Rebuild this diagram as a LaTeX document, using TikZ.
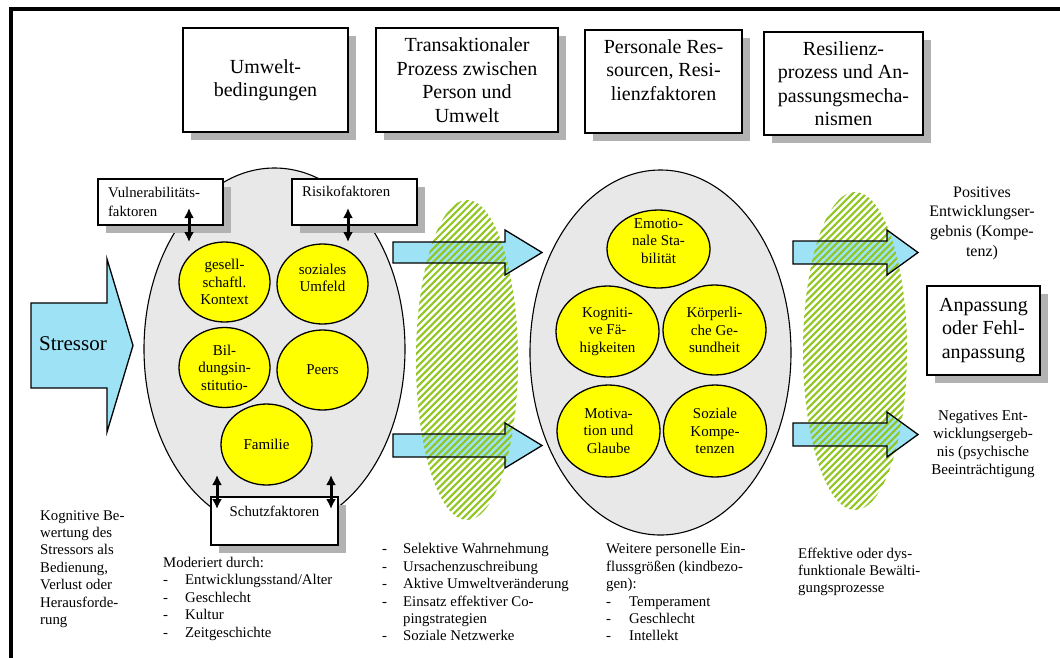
\documentclass[tikz,border=0pt]{standalone}
\usepackage{fontspec}
\setmainfont{Liberation Serif}
\usetikzlibrary{shapes.geometric,arrows.meta,shadows}
\definecolor{ellgray}{RGB}{232,232,232}
\definecolor{shadowgray}{RGB}{178,178,178}
\definecolor{arrowblue}{RGB}{158,226,246}
\definecolor{hatchgreen}{RGB}{145,198,35}
\definecolor{circyellow}{RGB}{255,255,0}
\tikzset{
  shadowed/.style={drop shadow={shadow xshift=8pt,shadow yshift=-8pt,fill=shadowgray,opacity=1}},
  titlebox/.style={draw=black,line width=1.3pt,fill=white,shadowed,inner sep=0pt,align=center,font=\fontsize{20}{23.5}\selectfont},
  titletext/.style={align=center,font=\fontsize{20}{23.5}\selectfont,inner sep=0pt},
  smallbox/.style={draw=black,line width=1.3pt,fill=white,shadowed,inner sep=0pt},
  boxtext/.style={font=\fontsize{14.8}{18.5}\selectfont,inner sep=0pt,align=left},
  bigell/.style={ellipse,draw=black,line width=1.1pt,fill=ellgray,inner sep=0pt},
  yc/.style={ellipse,draw=black,line width=1.3pt,fill=circyellow,inner sep=0pt,align=center,font=\fontsize{15}{17.5}\selectfont},
  ctext/.style={align=center,font=\fontsize{15}{17.5}\selectfont,inner sep=0pt},
  twohead/.style={line width=3pt,{Latex[length=10pt,width=10pt]}-{Latex[length=10pt,width=10pt]}},
  barrow/.style={fill=arrowblue,draw=black,line width=1.3pt,line join=miter},
  barrowline/.style={draw=black,line width=1.3pt,line join=miter},
  hatchline/.style={draw=hatchgreen,line width=2.1pt},
  body/.style={align=left,font=\fontsize{14.8}{17.4}\selectfont,inner sep=0pt,anchor=north west},
}
\begin{document}
\begin{tikzpicture}[x=1pt,y=-1pt]
\useasboundingbox (0,0) rectangle (1060,657);
% frame
\draw[line width=3.4pt] (11,665) -- (11,9) -- (1065,9);

% top title boxes
\node[titlebox,minimum width=165pt,minimum height=104pt] (tb1) at (265.5,80) {Umwelt-\\bedingungen};
\node[titlebox,minimum width=182pt,minimum height=104pt] (tb2) at (467,80) {Transaktionaler\\Prozess zwischen\\Person und\\Umwelt};
\node[titlebox,minimum width=157pt,minimum height=103pt] (tb3) at (663.5,81.5) {};
\node[titletext,anchor=north] (tb3t) at (663.5,39) {Personale Res-\\sourcen, Resi-\\lienzfaktoren};
\node[titlebox,minimum width=159pt,minimum height=103pt] (tb4) at (843.5,83.5) {Resilienz-\\prozess und An-\\passungsmecha-\\nismen};

% big grey ellipses
\node[bigell,minimum width=261pt,minimum height=362pt] (env) at (274.5,349) {};
\node[bigell,minimum width=261pt,minimum height=365pt] (pers) at (660.5,352.5) {};

% yellow circles left
\node[yc,minimum width=91pt,minimum height=80pt] (ges) at (224.5,282) {gesell-\\schaftl.\\Kontext};
\node[yc,minimum width=91pt,minimum height=80pt] (soz) at (322.5,284) {};
\node[ctext] (sozt) at (322.5,278) {soziales\\Umfeld};
\node[yc,minimum width=91pt,minimum height=80pt] (bil) at (224.5,367.5) {Bil-\\dungsin-\\stitutio-};
\node[yc,minimum width=91pt,minimum height=80pt] (peer) at (322.5,370) {Peers};
\node[yc,minimum width=91pt,minimum height=81pt] (fam) at (266.5,444.5) {Familie};

% yellow circles right
\node[yc,minimum width=103pt,minimum height=78pt] (emo) at (658.5,249) {};
\node[ctext] (emot) at (658.5,241) {Emotio-\\nale Sta-\\bilität};
\node[yc,minimum width=103pt,minimum height=91pt] (kog) at (607.5,331.5) {Kogniti-\\ve Fä-\\higkeiten};
\node[yc,minimum width=103pt,minimum height=90pt] (koe) at (714.5,330) {Körperli-\\che Ge-\\sundheit};
\node[yc,minimum width=103pt,minimum height=92pt] (mot) at (608.5,431) {Motiva-\\tion und\\Glaube};
\node[yc,minimum width=103pt,minimum height=92pt] (sok) at (715,431) {Soziale\\Kompe-\\tenzen};

% factor boxes
\node[smallbox,minimum width=125pt,minimum height=46pt,text width=105pt,boxtext] (vul) at (160.5,202) {Vulnerabilitäts-\\faktoren};
\node[smallbox,minimum width=125pt,minimum height=46pt] (ris) at (354.5,202) {};
\node[boxtext,anchor=north west] (rist) at (302,186) {Risikofaktoren};
\node[smallbox,minimum width=127pt,minimum height=48pt] (sch) at (274.5,521) {};
\node[boxtext,anchor=north] (scht) at (274.5,506) {Schutzfaktoren};

% double arrows
\coordinate (d1a) at (189,208); \coordinate (d1b) at (189,242);
\coordinate (d2a) at (348,208); \coordinate (d2b) at (348,242);
\coordinate (d3a) at (217,475); \coordinate (d3b) at (217,509);
\coordinate (d4a) at (331,475); \coordinate (d4b) at (331,509);
\draw[twohead] (d1a) -- (d1b);
\draw[twohead] (d2a) -- (d2b);
\draw[twohead] (d3a) -- (d3b);
\draw[twohead] (d4a) -- (d4b);

% stressor arrow
\draw[barrow] (31,303) -- (107,303) -- (107,259) -- (133,345.5) -- (107,432) -- (107,388) -- (31,388) -- cycle;
\node[font=\fontsize{21}{24}\selectfont,inner sep=0pt] (stress) at (73,344) {Stressor};

% block arrows (fill)
\fill[arrowblue] (393,242) -- (505,242) -- (505,230) -- (542,252.5) -- (505,275) -- (505,263) -- (393,263) -- cycle;
\fill[arrowblue] (393,434) -- (505,434) -- (505,423) -- (542,445.5) -- (505,468) -- (505,457) -- (393,457) -- cycle;
\fill[arrowblue] (793,241) -- (887,241) -- (887,230) -- (918,252.5) -- (887,275) -- (887,264) -- (793,264) -- cycle;
\fill[arrowblue] (793,423) -- (887,423) -- (887,412) -- (918,434.5) -- (887,457) -- (887,446) -- (793,446) -- cycle;

% hatched ellipses
\begin{scope}
\clip (467,360) ellipse [x radius=51, y radius=160];
\foreach \k in {0,...,70} \draw[hatchline] (467-450+\k*6.8,590) -- ++(440,-440);
\end{scope}
\begin{scope}
\clip (855,351) ellipse [x radius=52, y radius=159];
\foreach \k in {0,...,70} \draw[hatchline] (855-450+\k*6.8,580) -- ++(440,-440);
\end{scope}

% block arrows (outline)
\draw[barrowline] (393,242) -- (505,242) -- (505,230) -- (542,252.5) -- (505,275) -- (505,263) -- (393,263) -- cycle;
\draw[barrowline] (393,434) -- (505,434) -- (505,423) -- (542,445.5) -- (505,468) -- (505,457) -- (393,457) -- cycle;
\draw[barrowline] (793,241) -- (887,241) -- (887,230) -- (918,252.5) -- (887,275) -- (887,264) -- (793,264) -- cycle;
\draw[barrowline] (793,423) -- (887,423) -- (887,412) -- (918,434.5) -- (887,457) -- (887,446) -- (793,446) -- cycle;

% right side
\node[align=center,font=\fontsize{16}{19.7}\selectfont,inner sep=0pt] (posi) at (982,223) {Positives\\Entwicklungser-\\gebnis (Kompe-\\tenz)};
\node[titlebox,minimum width=113pt,minimum height=89pt] (anp) at (983.5,330.5) {Anpassung\\oder Fehl-\\anpassung};
\node[align=center,font=\fontsize{15}{17.8}\selectfont,inner sep=0pt] (nega) at (983,444) {Negatives Ent-\\wicklungsergeb-\\nis (psychische\\Beeinträchtigung};

% bottom texts
\node[body] (kogb) at (40,510) {Kognitive Be-\\wertung des\\Stressors als\\Bedienung,\\Verlust oder\\Herausforde-\\rung};
\node[body] (modt) at (163,557) {Moderiert durch:\\
\makebox[22pt][l]{-}Entwicklungsstand/Alter\\
\makebox[22pt][l]{-}Geschlecht\\
\makebox[22pt][l]{-}Kultur\\
\makebox[22pt][l]{-}Zeitgeschichte};
\node[body] (selt) at (382,543.5) {\makebox[21pt][l]{-}Selektive Wahrnehmung\\
\makebox[21pt][l]{-}Ursachenzuschreibung\\
\makebox[21pt][l]{-}Aktive Umweltveränderung\\
\makebox[21pt][l]{-}Einsatz effektiver Co-\\
\makebox[21pt][l]{}pingstrategien\\
\makebox[21pt][l]{-}Soziale Netzwerke};
\node[body] (weit) at (606,543.5) {Weitere personelle Ein-\\flussgrößen (kindbezo-\\gen):\\
\makebox[23pt][l]{-}Temperament\\
\makebox[23pt][l]{-}Geschlecht\\
\makebox[23pt][l]{-}Intellekt};
\node[body] (efft) at (798,547.5) {Effektive oder dys-\\funktionale Bewälti-\\gungsprozesse};
\end{tikzpicture}
\end{document}
